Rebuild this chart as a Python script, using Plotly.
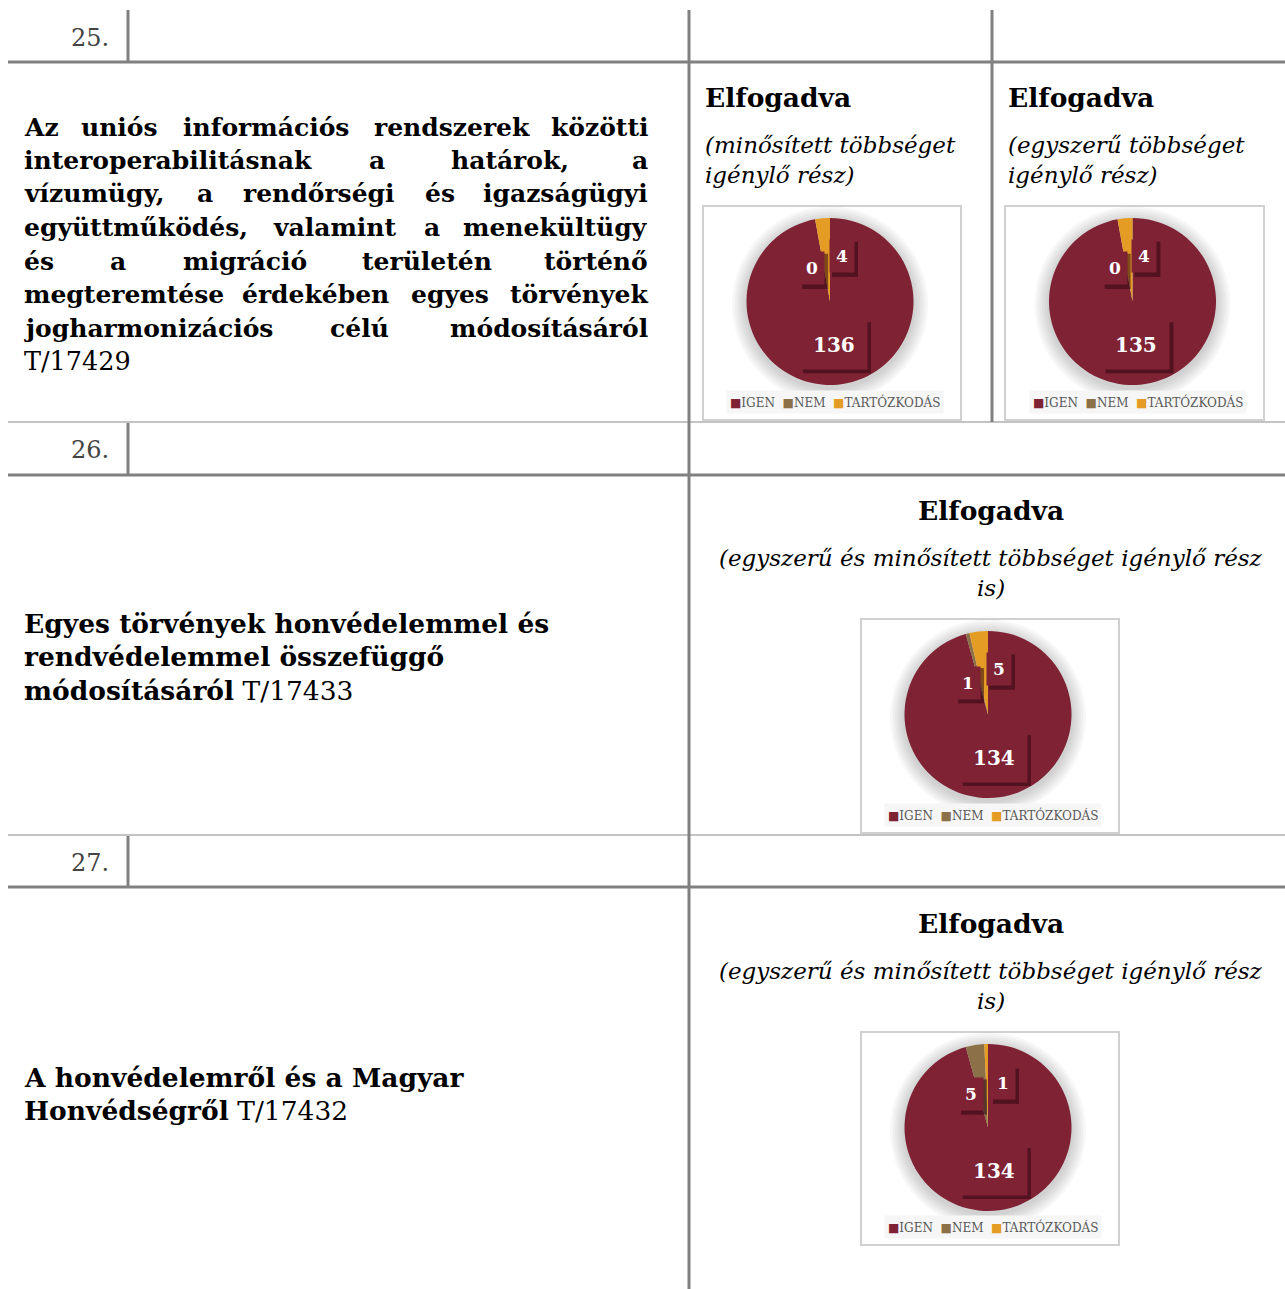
import math
import plotly.graph_objects as go

# szavazási kategóriák és színek
vote_labels = ["IGEN", "NEM", "TARTÓZKODÁS"]
vote_colors = ["#7E2234", "#8B7048", "#E49C24"]

# szavazatok (igen, nem, tartózkodás)
votes_25a = [136, 0, 4]
votes_25b = [135, 0, 4]
votes_26 = [134, 1, 5]
votes_27 = [134, 5, 1]

row_numbers = ["25.", "26.", "27."]
result_title = "Elfogadva"

bill_25_lines = [
    "Az uniós információs rendszerek közötti",
    "interoperabilitásnak a határok, a",
    "vízumügy, a rendőrségi és igazságügyi",
    "együttműködés, valamint a menekültügy",
    "és a migráció területén történő",
    "megteremtése érdekében egyes törvények",
    "jogharmonizációs célú módosításáról",
]
bill_25_no = "T/17429"
bill_26_lines = ["Egyes törvények honvédelemmel és", "rendvédelemmel összefüggő", "módosításáról"]
bill_26_no = "T/17433"
bill_27_lines = ["A honvédelemről és a Magyar", "Honvédségről"]
bill_27_no = "T/17432"

sub_25a = ["(minősített többséget", "igénylő rész)"]
sub_25b = ["(egyszerű többséget", "igénylő rész)"]
sub_both = ["(egyszerű és minősített többséget igénylő rész", "is)"]

W, H = 1285, 1289
FONT = "DejaVu Serif"
LINE = "#808080"
THIN = "#c3c3c3"
BOLD = 26.5
ITAL = 23

# kb. betűszélességek (em) a sorkizáráshoz
CHW = {}
for chars, w in [("ijlíI,.", 0.38), ("ft", 0.47), ("r", 0.53), ("sz", 0.58), ("c", 0.60),
                 ("aáeé", 0.65), ("oóöővykx", 0.67), ("bdgpqhnuúüű", 0.72),
                 ("m", 1.1), ("w", 0.96)]:
    for ch in chars:
        CHW[ch] = w * 0.97


def word_width(w, size):
    return sum(CHW.get(ch, 0.75) for ch in w) * size


def fx(x):
    return x / W


def fy(y):
    return 1 - y / H


fig = go.Figure()


def text(x, y, s, size, color="#000000", anchor="left", bg=None, pad=1):
    fig.add_annotation(x=fx(x), y=fy(y), xref="paper", yref="paper", text=s,
                       showarrow=False, xanchor=anchor, yanchor="middle",
                       font=dict(family=FONT, size=size, color=color),
                       bgcolor=bg, borderpad=pad)


def rect(x0, y0, x1, y1, fill, line=None, layer="above"):
    fig.add_shape(type="rect", xref="paper", yref="paper", layer=layer,
                  x0=fx(x0), x1=fx(x1), y0=fy(y0), y1=fy(y1), fillcolor=fill,
                  line=line or dict(width=0))


def hline(y, x0, x1, color=LINE, w=3):
    fig.add_shape(type="line", xref="paper", yref="paper", x0=fx(x0), x1=fx(x1),
                  y0=fy(y), y1=fy(y), line=dict(color=color, width=w))


def vline(x, y0, y1, color=LINE, w=3):
    fig.add_shape(type="line", xref="paper", yref="paper", x0=fx(x), x1=fx(x),
                  y0=fy(y0), y1=fy(y1), line=dict(color=color, width=w))


def justify(line, y, left, right, size):
    words = line.split()
    widths = [word_width(w, size) for w in words]
    gap = (right - left - sum(widths)) / (len(words) - 1)
    x = left
    for i, w in enumerate(words):
        if i == 0:
            text(left, y, "<b>%s</b>" % w, size, anchor="left")
        elif i == len(words) - 1:
            text(right, y, "<b>%s</b>" % w, size, anchor="right")
        else:
            text(x + widths[i] / 2, y, "<b>%s</b>" % w, size, anchor="center")
        x += widths[i] + gap


# táblázat vonalai
for y in [62, 475, 887]:
    hline(y, 8, 1285)
for y in [422, 835]:
    hline(y, 8, 1285, THIN, 2)
vline(128, 10, 62)
vline(128, 423, 475)
vline(128, 836, 887)
vline(689, 10, 1289)
vline(992, 10, 422)

# sorszámok
for n, y in zip(row_numbers, [38, 450, 863]):
    text(111, y, n, 24, "#444444", "right")

# törvényjavaslatok címei
for i, ln in enumerate(bill_25_lines):
    justify(ln, 127 + i * 33.5, 22, 650, 25)
text(22, 127 + 7 * 33.5, bill_25_no, 25.5)

for i, ln in enumerate(bill_26_lines):
    s = "<b>%s</b>" % ln
    if i == len(bill_26_lines) - 1:
        s += " " + bill_26_no
    text(22, 623 + i * 33.5, s, BOLD)
for i, ln in enumerate(bill_27_lines):
    s = "<b>%s</b>" % ln
    if i == len(bill_27_lines) - 1:
        s += " " + bill_27_no
    text(22, 1077 + i * 33.5, s, BOLD)

# eredmény fejlécek
text(703, 97, "<b>%s</b>" % result_title, BOLD)
text(1006, 97, "<b>%s</b>" % result_title, BOLD)
for i, s in enumerate(sub_25a):
    text(703, 145 + i * 30, "<i>%s</i>" % s, ITAL)
for i, s in enumerate(sub_25b):
    text(1006, 145 + i * 30, "<i>%s</i>" % s, ITAL)
for y0 in [510, 923]:
    text(991, y0, "<b>%s</b>" % result_title, BOLD, anchor="center")
    for i, s in enumerate(sub_both):
        text(991, y0 + 48 + i * 30, "<i>%s</i>" % s, ITAL, anchor="center")

# kördiagramok
charts = [
    (votes_25a, (703, 206, 961, 420)),
    (votes_25b, (1005, 206, 1264, 420)),
    (votes_26, (861, 619, 1119, 833)),
    (votes_27, (861, 1032, 1119, 1245)),
]
R = 83.5
legend_txt = "  ".join('<span style="color:%s">■</span>%s' % (c, l)
                       for l, c in zip(vote_labels, vote_colors))
SHADOW = "rgba(45,6,16,0.55)"

for votes, (x0, y0, x1, y1) in charts:
    cx = (x0 + x1) / 2 - 2
    cy = y0 + 95.5
    rect(x0, y0, x1, y1, "white", dict(color="#d0d0d0", width=2), "below")
    for k in range(6):
        rr = R + 2 + k * 2.5
        fig.add_shape(type="circle", xref="paper", yref="paper", layer="below",
                      x0=fx(cx - rr), x1=fx(cx + rr), y0=fy(cy + 3 + rr), y1=fy(cy + 3 - rr),
                      fillcolor="rgba(0,0,0,0.03)", line=dict(width=0))
    fig.add_trace(go.Pie(
        labels=vote_labels, values=votes, sort=False, direction="clockwise",
        rotation=0, textinfo="none", hoverinfo="label+value", showlegend=False,
        marker=dict(colors=vote_colors, line=dict(width=0)),
        domain=dict(x=[fx(cx - R), fx(cx + R)], y=[fy(cy + R), fy(cy - R)]),
    ))
    # adatcímkék
    total = sum(votes)
    start = 0
    rules = [(0, 0.52, 20, 12), (-18, 0.45, 17, 6), (20, 0.56, 17, 6)]
    for v, (off, f, size, pad) in zip(votes, rules):
        span = v / total * 360
        th = math.radians(start + span / 2 + off)
        lx = cx + f * R * math.sin(th)
        ly = cy - f * R * math.cos(th)
        start += span
        bw = len(str(v)) * 0.7 * size + 2 * pad + 2
        bh = 1.25 * size + 2 * pad + 2
        rect(lx - bw / 2 + 3, ly - bh / 2 + 3, lx + bw / 2 + 3, ly + bh / 2 + 3, SHADOW)
        text(lx, ly, "<b>%d</b>" % v, size, "white", "center", vote_colors[0], pad)
    text((x0 + x1) / 2 + 3, y1 - 18, legend_txt, 12, "#595959", "center", "#f6f6f6", 3)

fig.update_layout(
    width=W, height=H, margin=dict(l=0, r=0, t=0, b=0),
    paper_bgcolor="white", plot_bgcolor="white",
    xaxis=dict(visible=False), yaxis=dict(visible=False),
)
fig.write_html("out.html", config={"displayModeBar": False},
               post_script="document.body.style.margin='0px';")
